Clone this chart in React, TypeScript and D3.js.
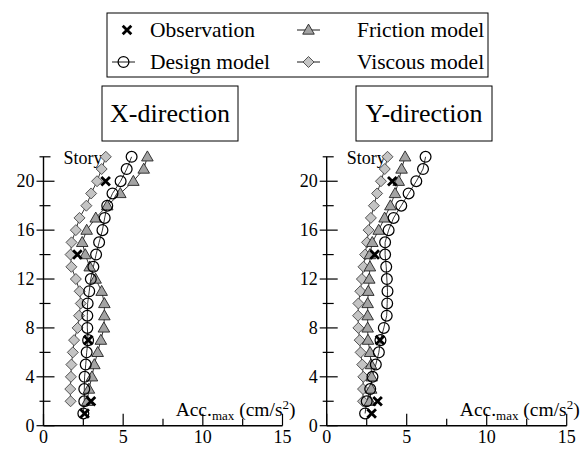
import React from "react";
import * as d3 from "d3";

// Storey numbers (1 = ground floor, 22 = roof)
const stories: number[] = d3.range(1, 23);

// X-direction maximum acceleration (cm/s^2) per storey
const obsStoriesX: number[] = [1, 2, 7, 14, 20];
const observationX: number[] = [2.58, 2.98, 2.81, 2.13, 3.9];
const designX: (number | null)[] = [2.5, 2.56, 2.56, 2.58, 2.65, 2.71, 2.8, 2.75, 2.75, 2.77, 2.87, 2.97, 3.13, 3.3, 3.49, 3.7, 3.84, 4.0, 4.33, 4.84, 5.22, 5.53];
const frictionX: (number | null)[] = [null, 2.75, 2.85, 3.04, 3.19, 3.4, 3.6, 3.79, 3.82, 3.82, 3.65, 3.27, 2.9, 2.62, 2.43, 2.71, 3.28, 4.0, 4.82, 5.64, 6.29, 6.52];
const viscousX: (number | null)[] = [null, 1.7, 1.68, 1.72, 1.75, 1.84, 1.92, 2.14, 2.23, 2.34, 2.27, 2.03, 1.75, 1.7, 1.76, 2.03, 2.26, 2.69, 2.99, 3.36, 3.65, 3.91];

// Y-direction maximum acceleration (cm/s^2) per storey
const obsStoriesY: number[] = [1, 2, 7, 14, 20];
const observationY: number[] = [2.81, 3.18, 3.33, 3.0, 4.1];
const designY: (number | null)[] = [2.4, 2.5, 2.72, 2.86, 3.07, 3.26, 3.36, 3.57, 3.75, 3.78, 3.8, 3.76, 3.72, 3.65, 3.65, 3.87, 4.18, 4.66, 5.12, 5.6, 6.02, 6.18];
const frictionY: (number | null)[] = [null, 2.7, 2.78, 2.81, 2.77, 2.71, 2.58, 2.56, 2.56, 2.56, 2.6, 2.66, 2.7, 2.7, 2.85, 3.25, 3.62, 3.98, 4.27, 4.5, 4.68, 4.9];
const viscousY: (number | null)[] = [null, 2.27, 2.27, 2.29, 2.22, 2.12, 2.06, 1.98, 1.96, 1.98, 2.1, 2.2, 2.3, 2.4, 2.52, 2.62, 2.76, 2.95, 3.15, 3.39, 3.63, 3.8];

// Axis ticks
const xMajorTicks: number[] = [0, 5, 10, 15];
const xMinorTicks: number[] = [2.5, 7.5, 12.5];
const yMajorTicks: number[] = [0, 4, 8, 12, 16, 20];
const yMinorTicks: number[] = [2, 6, 10, 14, 18, 22];

const legendLabels = ["Observation", "Design model", "Friction model", "Viscous model"];
const panelTitles = ["X-direction", "Y-direction"];

const serif: React.CSSProperties = { fontFamily: '"Times New Roman", "Liberation Serif", Times, serif' };
const TRI_FILL = "#a3a3a3";
const DIA_FILL = "#c4c4c4";

type Pt = { s: number; v: number };

function toPoints(values: (number | null)[]): Pt[] {
  const out: Pt[] = [];
  values.forEach((v, i) => {
    if (v != null) out.push({ s: stories[i], v });
  });
  return out;
}

function Circle({ x, y }: { x: number; y: number }) {
  return <circle cx={x} cy={y} r={5.4} fill="none" stroke="#000" strokeWidth={1.25} />;
}
function Triangle({ x, y }: { x: number; y: number }) {
  const p = d3.symbol().type(d3.symbolTriangle).size(58)();
  return <path d={p || ""} transform={`translate(${x},${y + 0.8})`} fill={TRI_FILL} stroke="#222" strokeWidth={0.9} />;
}
function Diamond({ x, y }: { x: number; y: number }) {
  const h = 5.5;
  return (
    <path d={`M${x},${y - h}L${x + h},${y}L${x},${y + h}L${x - h},${y}Z`} fill={DIA_FILL} stroke="#444" strokeWidth={0.9} />
  );
}
function Cross({ x, y }: { x: number; y: number }) {
  const h = 4.3;
  return (
    <path d={`M${x - h},${y - h}L${x + h},${y + h}M${x - h},${y + h}L${x + h},${y - h}`} stroke="#000" strokeWidth={2.8} />
  );
}

function Panel(props: {
  x0: number;
  x1: number;
  title: string;
  box: [number, number];
  obsStories: number[];
  obs: number[];
  design: (number | null)[];
  friction: (number | null)[];
  viscous: (number | null)[];
}) {
  const { x0, x1, title, box, obsStories, obs, design, friction, viscous } = props;
  const x = d3.scaleLinear().domain([0, 15]).range([x0, x1]);
  const y = d3.scaleLinear().domain([0, 22]).range([425.7, 156.8]);
  const line = d3
    .line<Pt>()
    .x((d) => x(d.v))
    .y((d) => y(d.s));

  const dPts = toPoints(design);
  const fPts = toPoints(friction);
  const vPts = toPoints(viscous);

  return (
    <g>
      {/* title box */}
      <rect x={box[0]} y={86} width={box[1] - box[0]} height={55} fill="#fff" stroke="#000" strokeWidth={1} />
      <text x={(box[0] + box[1]) / 2} y={122} textAnchor="middle" fontSize={26} style={serif}>
        {title}
      </text>

      {/* axis titles */}
      <text x={x0 + 20} y={164} fontSize={18} style={serif}>
        Story
      </text>
      <text x={x1 + 13} y={416} textAnchor="end" fontSize={19.5} style={serif}>
        Acc.
        <tspan fontSize={13} dy={4}>max</tspan>
        <tspan dy={-4}> (cm/s</tspan>
        <tspan fontSize={13} dy={-7.5}>2</tspan>
        <tspan dy={7.5}>)</tspan>
      </text>

      {/* axes */}
      <line x1={x0} x2={x0} y1={y(0)} y2={y(22)} stroke="#000" strokeWidth={1.4} />
      <line x1={x0} x2={x1} y1={y(0)} y2={y(0)} stroke="#000" strokeWidth={1.4} />
      {xMajorTicks.map((t) => (
        <g key={"xm" + t}>
          <line x1={x(t)} x2={x(t)} y1={y(0)} y2={y(0) - 12} stroke="#000" strokeWidth={1.2} />
          <text x={x(t)} y={y(0) + 17} textAnchor="middle" fontSize={18} style={serif}>
            {t}
          </text>
        </g>
      ))}
      {xMinorTicks.map((t) => (
        <line key={"xn" + t} x1={x(t)} x2={x(t)} y1={y(0)} y2={y(0) - 7} stroke="#000" strokeWidth={1.2} />
      ))}
      {yMajorTicks.map((t) => (
        <g key={"ym" + t}>
          <line x1={x0 - 7} x2={x0 + 11} y1={y(t)} y2={y(t)} stroke="#000" strokeWidth={1.2} />
          <text x={x0 - 9} y={y(t) + 6} textAnchor="end" fontSize={18} style={serif}>
            {t}
          </text>
        </g>
      ))}
      {yMinorTicks.map((t) => (
        <line key={"yn" + t} x1={x0 - 4} x2={x0 + 7} y1={y(t)} y2={y(t)} stroke="#000" strokeWidth={1.2} />
      ))}

      {/* model profiles */}
      <path d={line(vPts) || ""} fill="none" stroke="#000" strokeWidth={0.8} />
      <path d={line(fPts) || ""} fill="none" stroke="#000" strokeWidth={0.8} />
      <path d={line(dPts) || ""} fill="none" stroke="#000" strokeWidth={0.8} />
      {vPts.map((p) => (
        <Diamond key={"v" + p.s} x={x(p.v)} y={y(p.s)} />
      ))}
      {fPts.map((p) => (
        <Triangle key={"f" + p.s} x={x(p.v)} y={y(p.s)} />
      ))}
      {dPts.map((p) => (
        <Circle key={"d" + p.s} x={x(p.v)} y={y(p.s)} />
      ))}
      {obs.map((v, i) => (
        <Cross key={"o" + i} x={x(v)} y={y(obsStories[i])} />
      ))}
    </g>
  );
}

export default function App() {
  const row1 = 30;
  const row2 = 62;
  return (
    <svg width={588} height={452} style={{ position: "absolute", left: 0, top: 0, background: "#fff" }}>
      <rect x={0} y={0} width={588} height={452} fill="#fff" />
      {/* legend */}
      <rect x={107} y={13} width={381} height={64} fill="#fff" stroke="#000" strokeWidth={1} />
      <Cross x={127} y={row1} />
      <line x1={112} x2={135} y1={row2} y2={row2} stroke="#000" strokeWidth={0.9} />
      <Circle x={123.5} y={row2} />
      <line x1={297} x2={320} y1={row1} y2={row1} stroke="#000" strokeWidth={0.9} />
      <Triangle x={308.5} y={row1} />
      <line x1={297} x2={320} y1={row2} y2={row2} stroke="#000" strokeWidth={0.9} />
      <Diamond x={308.5} y={row2} />
      <text x={150} y={row1 + 7} fontSize={21.5} style={serif}>{legendLabels[0]}</text>
      <text x={150} y={row2 + 7} fontSize={21.5} style={serif}>{legendLabels[1]}</text>
      <text x={357} y={row1 + 7} fontSize={21.5} style={serif}>{legendLabels[2]}</text>
      <text x={357} y={row2 + 7} fontSize={21.5} style={serif}>{legendLabels[3]}</text>

      <Panel
        x0={43.5}
        x1={282.5}
        title={panelTitles[0]}
        box={[102, 238]}
        obsStories={obsStoriesX}
        obs={observationX}
        design={designX}
        friction={frictionX}
        viscous={viscousX}
      />
      <Panel
        x0={326.7}
        x1={566.7}
        title={panelTitles[1]}
        box={[356, 492]}
        obsStories={obsStoriesY}
        obs={observationY}
        design={designY}
        friction={frictionY}
        viscous={viscousY}
      />
    </svg>
  );
}
